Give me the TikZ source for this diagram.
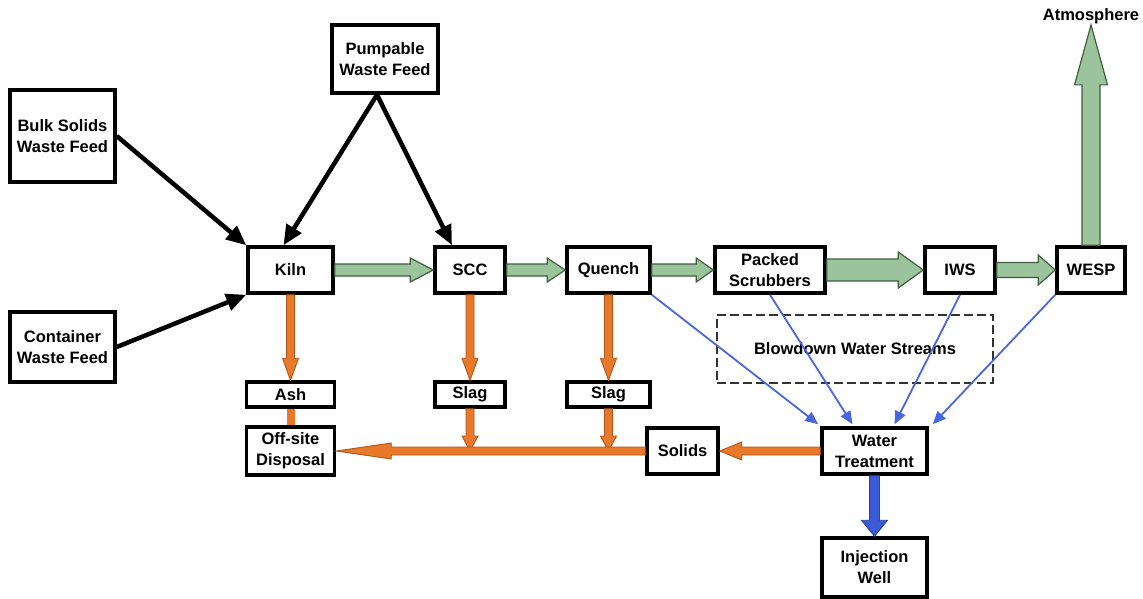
\documentclass[tikz,border=0pt]{standalone}
\usepackage{fontspec}
\setmainfont{Liberation Sans}
\usetikzlibrary{arrows.meta,calc}
\definecolor{gfill}{HTML}{9CC49C}
\definecolor{gline}{HTML}{3E5E3E}
\definecolor{ofill}{HTML}{E8782A}
\definecolor{oline}{HTML}{B0561A}
\definecolor{bthin}{HTML}{4A66DC}
\definecolor{bfill}{HTML}{3A5AD8}
\definecolor{bline}{HTML}{2A3E9A}
\newcommand\fatarrow[6]{%
  \coordinate (fahead) at ($(#3)!#6!(#2)$);
  \draw[#1] ($(#2)!#4!90:(#3)$) -- ($(fahead)!#4!-90:(#2)$) -- ($(fahead)!#5!-90:(#2)$) -- (#3)
     -- ($(fahead)!#5!90:(#2)$) -- ($(fahead)!#4!90:(#2)$) -- ($(#2)!#4!-90:(#3)$) -- cycle;}
\tikzset{
  lbl/.style={font=\fontsize{16.5}{21}\selectfont\bfseries},
  box/.style={lbl, draw=black, line width=3.5pt, fill=white, align=center, inner sep=0pt},
  dbox/.style={lbl, draw=black!80, line width=1.2pt, dash pattern=on 9pt off 4pt, align=center},
  gflow/.style={fill=gfill, draw=gline, line width=1.2pt, line join=miter},
  oflow/.style={fill=ofill, draw=oline, line width=0.9pt, line join=miter},
  obar/.style={draw=ofill, line width=8pt},
  bflow/.style={fill=bfill, draw=bline, line width=0.9pt, line join=miter},
  feed/.style={draw=black, line width=4.5pt, -{Triangle[length=20pt,width=17pt]}},
  blow/.style={draw=bthin, line width=1.8pt, -{Triangle[length=13pt,width=11pt]}},
}
\begin{document}
\begin{tikzpicture}[x=1pt,y=-1pt]
\useasboundingbox (0,0) rectangle (1143,598);
% nodes
\node[box, minimum width=105, minimum height=92] (bulk) at (62.5,136) {Bulk Solids\\Waste Feed};
\node[box, minimum width=106, minimum height=68] (pump) at (385,59) {Pumpable\\Waste Feed};
\node[box, minimum width=105, minimum height=70] (cont) at (62.5,347) {Container\\Waste Feed};
\node[box, minimum width=85, minimum height=46] (kiln) at (290.5,270) {Kiln};
\node[box, minimum width=70, minimum height=46] (scc) at (470,270) {SCC};
\node[box, minimum width=83, minimum height=46] (quench) at (608.5,270) {Quench};
\node[box, minimum width=110, minimum height=46] (packed) at (770,270) {Packed\\Scrubbers};
\node[box, minimum width=70, minimum height=46] (iws) at (960,270) {IWS};
\node[box, minimum width=68, minimum height=46] (wesp) at (1091,270) {WESP};
\node[dbox, minimum width=276, minimum height=68] (blowbox) at (855,349) {Blowdown Water Streams};
\node[box, minimum width=105, minimum height=46] (wt) at (874.5,451) {Water\\Treatment};
\node[box, minimum width=105, minimum height=59] (inj) at (874.5,567.5) {Injection\\Well};
\node[box, minimum width=71, minimum height=46] (solids) at (682.5,451) {Solids};
\node[box, minimum width=88, minimum height=25] (ash) at (290.5,394.5) {Ash};
\node[box, minimum width=70, minimum height=25] (slag1) at (470,394.5) {Slag};
\node[box, minimum width=83, minimum height=25] (slag2) at (608.5,394.5) {Slag};
\node[box, minimum width=88, minimum height=48] (off) at (290.5,451) {Off-site\\Disposal};
\node[lbl, inner sep=1pt] (atm) at (1091,16) {Atmosphere};
% feed arrows
\draw[feed] (bulk.east) -- (kiln.north west);
\draw[feed] (cont.east) -- (kiln.south west);
\draw[feed] ($(pump.south)+(-8,0)$) -- ($(kiln.north)+(-7,0)$);
\draw[feed] ($(pump.south)+(-8,0)$) -- ($(scc.north)+(-18,0)$);
% gas flow
\fatarrow{gflow}{kiln.east}{scc.west}{6pt}{12pt}{23pt}
\fatarrow{gflow}{scc.east}{quench.west}{6pt}{12pt}{18pt}
\fatarrow{gflow}{quench.east}{packed.west}{6pt}{12pt}{17pt}
\fatarrow{gflow}{packed.east}{iws.west}{11pt}{18pt}{25pt}
\fatarrow{gflow}{iws.east}{wesp.west}{7.5pt}{15pt}{17pt}
\fatarrow{gflow}{wesp.north}{atm.south}{9pt}{16.5pt}{60pt}
% solids flow
\coordinate (j1) at (slag1.south |- solids.west);
\coordinate (j2) at (slag2.south |- solids.west);
\fatarrow{oflow}{kiln.south}{ash.north}{4pt}{8pt}{22pt}
\draw[obar] (ash.south) -- (off.north);
\fatarrow{oflow}{scc.south}{slag1.north}{4pt}{8pt}{22pt}
\fatarrow{oflow}{quench.south}{slag2.north}{4pt}{8pt}{22pt}
\fatarrow{oflow}{slag1.south}{j1}{4pt}{8pt}{15pt}
\fatarrow{oflow}{slag2.south}{j2}{4pt}{8pt}{15pt}
\fatarrow{oflow}{solids.west}{off.east}{4pt}{8pt}{55pt}
\fatarrow{oflow}{wt.west}{solids.east}{4pt}{9pt}{22pt}
% water flow
\draw[blow] (quench.south east) -- ($(wt.north west)+(-2,-2)$);
\draw[blow] (packed.south) -- ($(wt.north)+(-22,-2)$);
\draw[blow] (iws.south) -- ($(wt.north)+(20,-2)$);
\draw[blow] (wesp.south west) -- ($(wt.north east)+(4,-2)$);
\fatarrow{bflow}{wt.south}{inj.north}{5pt}{13pt}{16pt}
\end{tikzpicture}
\end{document}
